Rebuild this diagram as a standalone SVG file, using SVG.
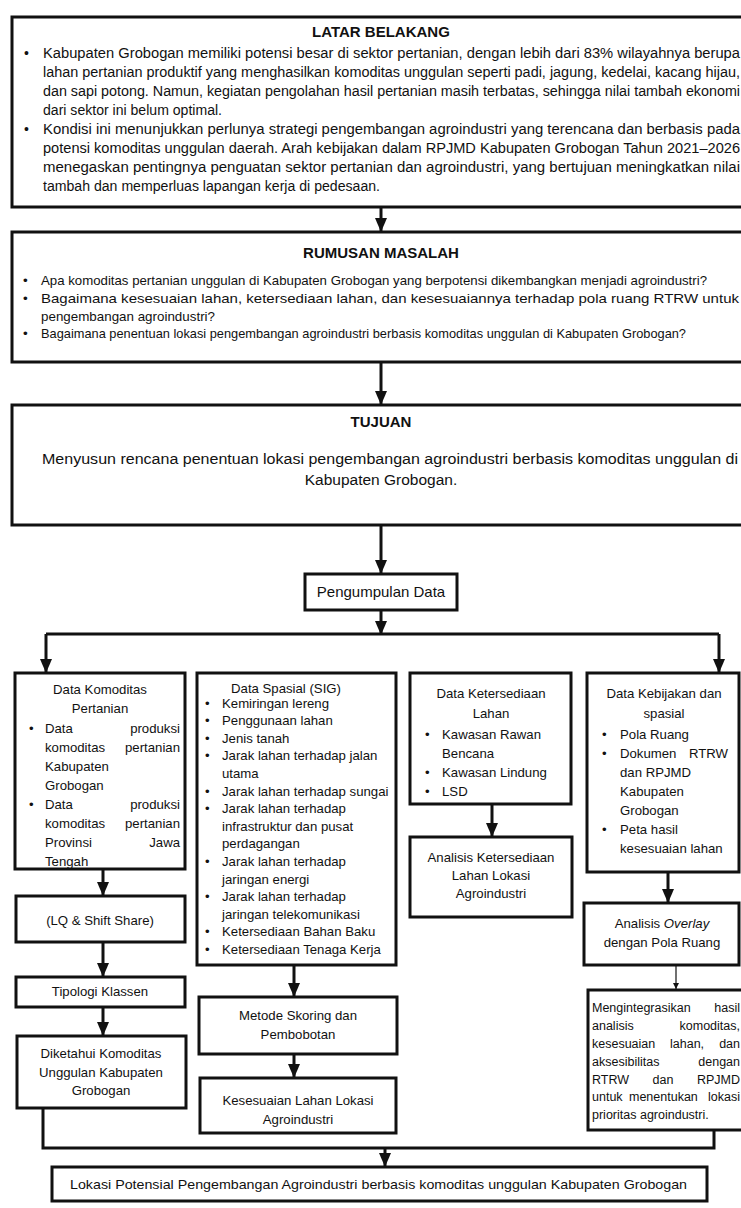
<svg xmlns="http://www.w3.org/2000/svg" width="741" height="1208" viewBox="0 0 741 1208">
<style>
.box{fill:#fff;stroke:#111;stroke-width:3}
.t{font-family:"Liberation Sans",Arial,sans-serif;fill:#111}
.h{font-weight:bold;text-anchor:middle;font-size:15px}
.c{text-anchor:middle}
.e{text-anchor:end}
.f14{font-size:14px}
.f13{font-size:13.5px}
.f132{font-size:13.2px}
.f125{font-size:12.5px}
.conn{stroke:#111;stroke-width:3;fill:none}
.thin{stroke:#111;stroke-width:1.2;fill:none}
</style>
<defs>
<marker id="ah" viewBox="0 0 14 12" refX="13" refY="6" markerWidth="14" markerHeight="12" markerUnits="userSpaceOnUse" orient="auto">
<path d="M0,0 L14,6 L0,12 Z" fill="#111"/>
</marker>
<marker id="ahs" viewBox="0 0 6 6" refX="6" refY="3" markerWidth="6" markerHeight="6" markerUnits="userSpaceOnUse" orient="auto">
<path d="M0,0 L6,3 L0,6 Z" fill="#111"/>
</marker>
</defs>
<rect width="741" height="1208" fill="#fff"/>

<g id="latar">
<rect class="box" x="12" y="17" width="760" height="190"/>
<text class="t h" x="381" y="37">LATAR BELAKANG</text>
<g class="t f14">
<text x="24" y="58">•</text>
<text x="43" y="58" textLength="697" lengthAdjust="spacingAndGlyphs">Kabupaten Grobogan memiliki potensi besar di sektor pertanian, dengan lebih dari 83% wilayahnya berupa</text>
<text x="43" y="77" textLength="697" lengthAdjust="spacingAndGlyphs">lahan pertanian produktif yang menghasilkan komoditas unggulan seperti padi, jagung, kedelai, kacang hijau,</text>
<text x="43" y="96" textLength="697" lengthAdjust="spacingAndGlyphs">dan sapi potong. Namun, kegiatan pengolahan hasil pertanian masih terbatas, sehingga nilai tambah ekonomi</text>
<text x="43" y="115" textLength="179" lengthAdjust="spacingAndGlyphs">dari sektor ini belum optimal.</text>
<text x="24" y="134">•</text>
<text x="43" y="134" textLength="697" lengthAdjust="spacingAndGlyphs">Kondisi ini menunjukkan perlunya strategi pengembangan agroindustri yang terencana dan berbasis pada</text>
<text x="43" y="153" textLength="697" lengthAdjust="spacingAndGlyphs">potensi komoditas unggulan daerah. Arah kebijakan dalam RPJMD Kabupaten Grobogan Tahun 2021–2026</text>
<text x="43" y="172" textLength="697" lengthAdjust="spacingAndGlyphs">menegaskan pentingnya penguatan sektor pertanian dan agroindustri, yang bertujuan meningkatkan nilai</text>
<text x="43" y="191" textLength="337" lengthAdjust="spacingAndGlyphs">tambah dan memperluas lapangan kerja di pedesaan.</text>
</g>
</g>

<g id="rumusan">
<rect class="box" x="12" y="232" width="760" height="130"/>
<text class="t h" x="381" y="258">RUMUSAN MASALAH</text>
<g class="t f13">
<text x="23" y="285">•</text>
<text x="41" y="285" textLength="666" lengthAdjust="spacingAndGlyphs">Apa komoditas pertanian unggulan di Kabupaten Grobogan yang berpotensi dikembangkan menjadi agroindustri?</text>
<text x="23" y="303">•</text>
<text x="41" y="303" textLength="698" lengthAdjust="spacingAndGlyphs">Bagaimana kesesuaian lahan, ketersediaan lahan, dan kesesuaiannya terhadap pola ruang RTRW untuk</text>
<text x="41" y="321" textLength="174" lengthAdjust="spacingAndGlyphs">pengembangan agroindustri?</text>
<text x="23" y="338">•</text>
<text x="41" y="338" textLength="645" lengthAdjust="spacingAndGlyphs">Bagaimana penentuan lokasi pengembangan agroindustri berbasis komoditas unggulan di Kabupaten Grobogan?</text>
</g>
</g>

<g id="tujuan">
<rect class="box" x="12" y="405" width="760" height="120"/>
<text class="t h" x="381" y="427">TUJUAN</text>
<text class="t" x="42" y="464" font-size="15.5" textLength="696" lengthAdjust="spacingAndGlyphs">Menyusun rencana penentuan lokasi pengembangan agroindustri berbasis komoditas unggulan di</text>
<text class="t c" x="381" y="485" font-size="15.5">Kabupaten Grobogan.</text>
</g>

<g id="pengumpulan">
<rect class="box" x="305" y="574" width="152" height="36"/>
<text class="t c" x="381" y="597" font-size="15">Pengumpulan Data</text>
</g>

<g id="data-komoditas" class="t f132">
<rect class="box" x="15" y="673" width="170" height="196"/>
<text class="c" x="100" y="693.5">Data Komoditas</text>
<text class="c" x="100" y="712.5">Pertanian</text>
<text x="29" y="732.5">•</text>
<text x="45" y="732.5">Data</text><text class="e" x="180" y="732.5">produksi</text>
<text x="45" y="751.5">komoditas</text><text class="e" x="180" y="751.5">pertanian</text>
<text x="45" y="770.5">Kabupaten</text>
<text x="45" y="789.5">Grobogan</text>
<text x="29" y="808.5">•</text>
<text x="45" y="808.5">Data</text><text class="e" x="180" y="808.5">produksi</text>
<text x="45" y="827.5">komoditas</text><text class="e" x="180" y="827.5">pertanian</text>
<text x="45" y="846.5">Provinsi</text><text class="e" x="180" y="846.5">Jawa</text>
<text x="45" y="865.5">Tengah</text>
</g>

<g id="lq" class="t f132">
<rect class="box" x="16" y="896" width="169" height="46"/>
<text class="c" x="100" y="924.5">(LQ &amp; Shift Share)</text>
</g>
<g id="tipologi" class="t f132">
<rect class="box" x="16" y="977" width="169" height="30"/>
<text class="c" x="100" y="996">Tipologi Klassen</text>
</g>
<g id="diketahui" class="t f132">
<rect class="box" x="17" y="1036" width="169" height="72"/>
<text class="c" x="101" y="1057.5">Diketahui Komoditas</text>
<text class="c" x="101" y="1076.5">Unggulan Kabupaten</text>
<text class="c" x="101" y="1094.5">Grobogan</text>
</g>

<g id="data-spasial" class="t f132">
<rect class="box" x="197" y="673" width="199" height="292"/>
<text class="c" x="286" y="692.5">Data Spasial (SIG)</text>
<text x="205" y="707.6">•</text><text x="222" y="707.6">Kemiringan lereng</text>
<text x="205" y="725.2">•</text><text x="222" y="725.2">Penggunaan lahan</text>
<text x="205" y="742.8">•</text><text x="222" y="742.8">Jenis tanah</text>
<text x="205" y="760.4">•</text><text x="222" y="760.4">Jarak lahan terhadap jalan</text>
<text x="222" y="778">utama</text>
<text x="205" y="795.6">•</text><text x="222" y="795.6">Jarak lahan terhadap sungai</text>
<text x="205" y="813.2">•</text><text x="222" y="813.2">Jarak lahan terhadap</text>
<text x="222" y="830.8">infrastruktur dan pusat</text>
<text x="222" y="848.4">perdagangan</text>
<text x="205" y="866">•</text><text x="222" y="866">Jarak lahan terhadap</text>
<text x="222" y="883.6">jaringan energi</text>
<text x="205" y="901.2">•</text><text x="222" y="901.2">Jarak lahan terhadap</text>
<text x="222" y="918.8">jaringan telekomunikasi</text>
<text x="205" y="936.4">•</text><text x="222" y="936.4">Ketersediaan Bahan Baku</text>
<text x="205" y="954">•</text><text x="222" y="954">Ketersediaan Tenaga Kerja</text>
</g>

<g id="metode" class="t f132">
<rect class="box" x="199" y="997" width="198" height="57"/>
<text class="c" x="298" y="1019.5">Metode Skoring dan</text>
<text class="c" x="298" y="1038.5">Pembobotan</text>
</g>
<g id="kesesuaian" class="t f132">
<rect class="box" x="200" y="1078" width="196" height="55"/>
<text class="c" x="298" y="1104.5">Kesesuaian Lahan Lokasi</text>
<text class="c" x="298" y="1123.5">Agroindustri</text>
</g>

<g id="data-ketersediaan" class="t f132">
<rect class="box" x="410" y="673" width="161" height="131"/>
<text class="c" x="491" y="697.5">Data Ketersediaan</text>
<text class="c" x="491" y="717.5">Lahan</text>
<text x="425" y="738.5">•</text><text x="442" y="738.5">Kawasan Rawan</text>
<text x="442" y="757.5">Bencana</text>
<text x="425" y="776.5">•</text><text x="442" y="776.5">Kawasan Lindung</text>
<text x="425" y="795.5">•</text><text x="442" y="795.5">LSD</text>
</g>
<g id="analisis-ketersediaan" class="t f132">
<rect class="box" x="410" y="837" width="162" height="80"/>
<text class="c" x="491" y="861.5">Analisis Ketersediaan</text>
<text class="c" x="491" y="879.5">Lahan Lokasi</text>
<text class="c" x="491" y="897.5">Agroindustri</text>
</g>

<g id="data-kebijakan" class="t f132">
<rect class="box" x="587" y="673" width="152" height="199"/>
<text class="c" x="664" y="697.5">Data Kebijakan dan</text>
<text class="c" x="664" y="717.5">spasial</text>
<text x="602" y="738.6">•</text><text x="620" y="738.6">Pola Ruang</text>
<text x="602" y="757.6">•</text><text x="620" y="757.6">Dokumen</text><text class="e" x="728" y="757.6">RTRW</text>
<text x="620" y="776.6">dan RPJMD</text>
<text x="620" y="795.6">Kabupaten</text>
<text x="620" y="814.6">Grobogan</text>
<text x="602" y="833.6">•</text><text x="620" y="833.6">Peta hasil</text>
<text x="620" y="852.6">kesesuaian lahan</text>
</g>

<g id="overlay" class="t f132">
<rect class="box" x="584" y="903" width="155" height="62"/>
<text class="c" x="662" y="927.5">Analisis <tspan font-style="italic">Overlay</tspan></text>
<text class="c" x="662" y="946.5">dengan Pola Ruang</text>
</g>

<g id="integrasi" class="t f125">
<rect class="box" x="588" y="990" width="170" height="140"/>
<text x="592" y="1012.4">Mengintegrasikan</text><text class="e" x="740" y="1012.4">hasil</text>
<text x="592" y="1030.4">analisis</text><text class="e" x="740" y="1030.4">komoditas,</text>
<text x="592" y="1048.4">kesesuaian</text><text x="670" y="1048.4">lahan,</text><text class="e" x="740" y="1048.4">dan</text>
<text x="592" y="1066.4">aksesibilitas</text><text class="e" x="740" y="1066.4">dengan</text>
<text x="592" y="1084.4">RTRW</text><text class="c" x="663" y="1084.4">dan</text><text class="e" x="740" y="1084.4">RPJMD</text>
<text x="592" y="1101.4">untuk</text><text x="629" y="1101.4">menentukan</text><text class="e" x="740" y="1101.4">lokasi</text>
<text x="592" y="1119.4">prioritas agroindustri.</text>
</g>

<g id="lokasi" class="t">
<rect class="box" x="52" y="1167" width="655" height="34"/>
<text x="70" y="1189" font-size="13.5" textLength="617" lengthAdjust="spacingAndGlyphs">Lokasi Potensial Pengembangan Agroindustri berbasis komoditas unggulan Kabupaten Grobogan</text>
</g>

<g id="connectors">
<line class="conn" x1="381" y1="207" x2="381" y2="231" marker-end="url(#ah)"/>
<line class="conn" x1="381" y1="362" x2="381" y2="404" marker-end="url(#ah)"/>
<line class="conn" x1="381" y1="525" x2="381" y2="573" marker-end="url(#ah)"/>
<line class="conn" x1="381" y1="610" x2="381" y2="634" marker-end="url(#ah)"/>
<path class="conn" d="M46 634 H719"/>
<line class="conn" x1="46" y1="634" x2="46" y2="672" marker-end="url(#ah)"/>
<line class="conn" x1="719" y1="634" x2="719" y2="672" marker-end="url(#ah)"/>
<line class="conn" x1="103" y1="869" x2="103" y2="895" marker-end="url(#ah)"/>
<line class="conn" x1="103" y1="942" x2="103" y2="976" marker-end="url(#ah)"/>
<line class="conn" x1="103" y1="1007" x2="103" y2="1035" marker-end="url(#ah)"/>
<line class="conn" x1="294" y1="965" x2="294" y2="996" marker-end="url(#ah)"/>
<line class="conn" x1="294" y1="1054" x2="294" y2="1077" marker-end="url(#ah)"/>
<line class="conn" x1="492" y1="804" x2="492" y2="836" marker-end="url(#ah)"/>
<line class="conn" x1="668" y1="872" x2="668" y2="902" marker-end="url(#ah)"/>
<line class="thin" x1="676" y1="965" x2="676" y2="989" marker-end="url(#ahs)"/>
<path class="conn" d="M43 1108 V1148 H714 V1130"/>
<line class="conn" x1="385" y1="1148" x2="385" y2="1166" marker-end="url(#ah)"/>
</g>
</svg>
